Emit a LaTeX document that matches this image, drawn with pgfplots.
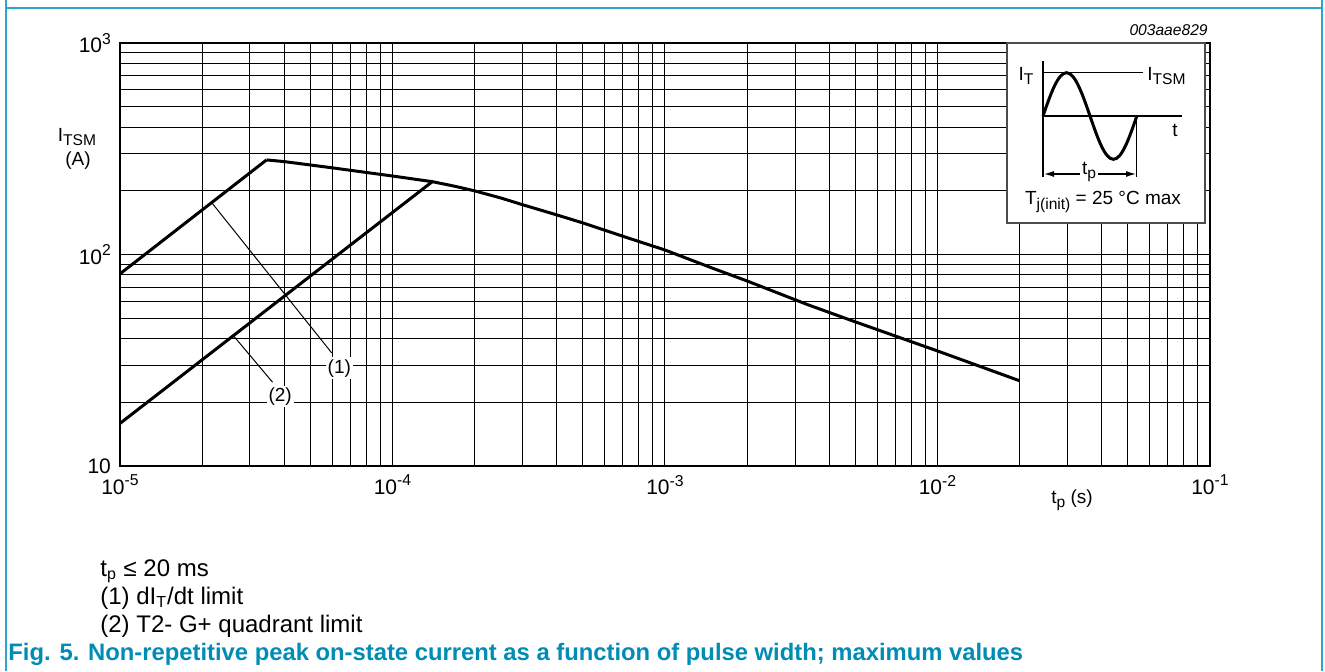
\documentclass[border=0pt]{standalone}
\usepackage{pgfplots}
\pgfplotsset{compat=1.18}
\usepackage{fontspec}
\setmainfont{Liberation Sans}
\usetikzlibrary{arrows.meta}
\definecolor{framebl}{RGB}{45,165,205}
\definecolor{capbl}{RGB}{0,140,180}
\newcommand{\fs}[1]{\fontsize{#1}{#1}\selectfont}
\newcommand{\sub}[1]{\raisebox{-0.45ex}{\scalebox{0.82}{#1}}}
\newcommand{\sups}[1]{\raisebox{0.75ex}{\scalebox{0.75}{#1}}}
\begin{document}
\begin{tikzpicture}
\useasboundingbox (0pt,0pt) rectangle (662.5pt,335.5pt);
\begin{axis}[
  at={(60pt,102.5pt)}, anchor=south west,
  scale only axis, width=545pt, height=211.5pt,
  xmode=log, ymode=log,
  xmin=1e-5, xmax=1e-1, ymin=10, ymax=1000,
  axis line style={black, line width=0.6pt},
  major tick length=0pt, minor tick length=0pt,
  grid=both,
  major grid style={black, line width=0.5pt},
  minor grid style={black, line width=0.5pt},
  xtick={1e-5,1e-4,1e-3,1e-2,1e-1},
  xticklabels={10\sups{-5},10\sups{-4},10\sups{-3},10\sups{-2},10\sups{-1}},
  minor xtick={2e-5,3e-5,4e-5,5e-5,6e-5,7e-5,8e-5,9e-5,2e-4,3e-4,4e-4,5e-4,6e-4,7e-4,8e-4,9e-4,2e-3,3e-3,4e-3,5e-3,6e-3,7e-3,8e-3,9e-3,2e-2,3e-2,4e-2,5e-2,6e-2,7e-2,8e-2,9e-2},
  ytick={10,100,1000},
  yticklabels={10,10\sups{2},10\sups{3}},
  minor ytick={20,30,40,50,60,70,80,90,200,300,400,500,600,700,800,900},
  tick label style={font=\fs{10.5}},
  xticklabel style={yshift=-1pt},
  yticklabel style={xshift=-1pt},
  clip=false,
]
\addplot[black, line width=1.5pt] coordinates {(1e-5,81) (3.45e-5,280)};
\addplot[black, line width=1.5pt] coordinates {(1e-5,15.9) (1.4e-4,221)};
\addplot[black, line width=1.5pt, line join=round] coordinates {
 (3.45e-5,280) (4e-5,275) (6e-5,257) (1e-4,235) (1.4e-4,221) (1.7e-4,210) (2e-4,200)
 (2.5e-4,185) (3e-4,172) (4e-4,154) (5e-4,141) (7e-4,122) (1e-3,105) (1.5e-3,86) (2e-3,75) (3.33e-3,58) (5e-3,48)
 (1e-2,35) (2e-2,25.3)};
\draw[black, line width=0.5pt] (axis cs:2.17e-5,176) -- (axis cs:5.98e-5,34.3);
\draw[black, line width=0.5pt] (axis cs:2.6e-5,41.5) -- (axis cs:3.63e-5,24.9);
\node[fill=white, inner sep=1pt, font=\fs{9.5}] at (axis cs:6.38e-5,29) {(1)};
\node[fill=white, inner sep=1pt, font=\fs{9.5}] at (axis cs:3.87e-5,21.3) {(2)};
\end{axis}
\begin{scope}[x=0.5pt, y=-0.5pt, yshift=335.5pt]
% frame
\draw[framebl, line width=1.2pt] (6,0) -- (6,671);
\draw[framebl, line width=1.2pt] (1322,0) -- (1322,671);
\draw[framebl, line width=1.2pt] (6,8) -- (1322,8);
% inset
\draw[gray!60!black, line width=0.7pt, fill=white] (1007,43) rectangle (1205,223);
\draw[line width=0.6pt] (1043,61) -- (1043,177);
\draw[line width=0.6pt] (1043,116) -- (1182,116);
\draw[line width=0.6pt] (1043,72.7) -- (1143,72.7);
\draw[line width=0.6pt] (1136.8,116) -- (1136.8,177);
\draw[line width=1.5pt] (1043,116) sin (1066.5,72.7) cos (1090,116) sin (1113.4,159.3) cos (1136.8,116);
\draw[line width=0.6pt, {Latex[length=5pt,width=3pt]}-{Latex[length=5pt,width=3pt]}] (1044,174) -- (1136,174);
\node[fill=white, inner sep=1pt, font=\fs{9.5}] at (1089,172) {t\sub{p}};
\node[font=\fs{9.5}] at (1026,76) {I\sub{T}};
\node[font=\fs{9.5}, anchor=west, inner sep=0pt] at (1147,76) {I\sub{TSM}};
\node[font=\fs{9.5}] at (1175,130) {t};
\node[font=\fs{9.5}] at (1103,202) {T\sub{j(init)} = 25 °C max};
\node[font=\fs{7.8}\itshape, anchor=east, inner sep=0pt] at (1208,30) {003aae829};
% axis labels
\node[font=\fs{9.5}] at (77,137) {I\sub{TSM}};
\node[font=\fs{9.5}] at (78,161) {(A)};
\node[font=\fs{9.5}] at (1072,500) {t\sub{p} (s)};
% notes
\node[font=\fs{12}, anchor=base west, inner sep=0pt] at (100,576) {t\textsubscript{p} ≤ 20 ms};
\node[font=\fs{12}, anchor=base west, inner sep=0pt] at (100,604) {(1) dI\textsubscript{T}/dt limit};
\node[font=\fs{12}, anchor=base west, inner sep=0pt] at (100,632) {(2) T2- G+ quadrant limit};
\node[font=\fs{11.9}\bfseries, text=capbl, anchor=base west, inner sep=0pt] at (8,660) {Fig. 5. Non-repetitive peak on-state current as a function of pulse width; maximum values};
\end{scope}
\end{tikzpicture}
\end{document}
